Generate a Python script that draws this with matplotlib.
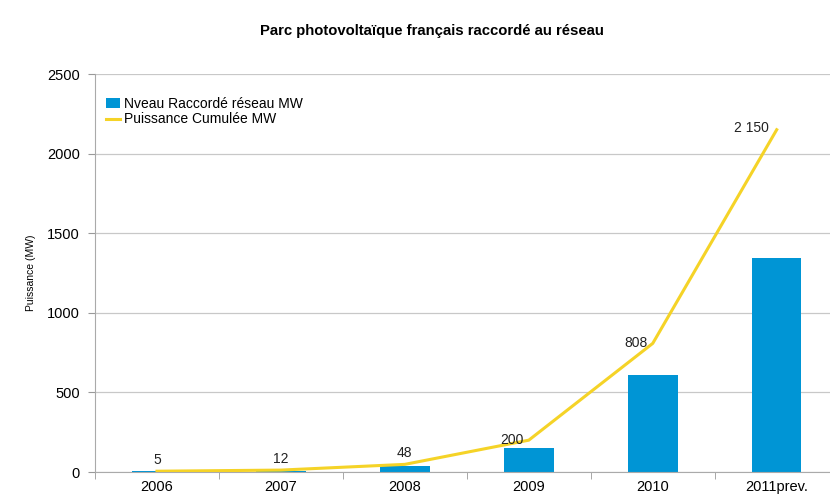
import matplotlib.pyplot as plt
import numpy as np

plt.rcParams['font.family'] = ['Liberation Sans', 'DejaVu Sans']

years = ['2006', '2007', '2008', '2009', '2010', '2011prev.']
annual_mw = [5, 7, 36, 152, 608, 1342]
cumul_mw = [5, 12, 48, 200, 808, 2150]
cumul_labels = ['5', '12', '48', '200', '808', '2 150']

# label offsets in points (dx, dy) relative to each line point
label_offsets = [(0, 8), (0, 8), (0, 8), (-12, 0), (-12, 0), (-18, 1)]

bar_color = '#0095D5'
line_color = '#F5D327'
grid_color = '#C8C8C8'

fig = plt.figure(figsize=(8.3, 4.95), dpi=100)
ax = fig.add_axes([95 / 830, 23 / 495, 735 / 830, 398 / 495])

x = np.arange(len(years))
bars = ax.bar(x, annual_mw, width=0.4, color=bar_color, zorder=2)
line, = ax.plot(x, cumul_mw, color=line_color, lw=2.2, zorder=3)

for xi, yi, txt, off in zip(x, cumul_mw, cumul_labels, label_offsets):
    ax.annotate(txt, (xi, yi), xytext=off, textcoords='offset points',
                ha='center', va='center', fontsize=10, color='#222222', zorder=4)

ax.set_xlim(-0.5, 5.43)
ax.set_ylim(0, 2500)
ax.set_yticks([0, 500, 1000, 1500, 2000, 2500])
ax.yaxis.grid(True, color=grid_color, lw=0.9, zorder=0)
ax.set_axisbelow(True)

ax.set_xticks(x)
ax.set_xticklabels(years, fontsize=10.5)
ax.set_xticks(np.arange(len(years)) - 0.5, minor=True)
ax.tick_params(axis='x', which='major', length=0, pad=6)
ax.tick_params(axis='x', which='minor', length=5, color='#999999', direction='out')
ax.tick_params(axis='y', length=5, color='#999999', labelsize=10.5, pad=6)

for side in ['top', 'right']:
    ax.spines[side].set_visible(False)
ax.spines['left'].set_color('#AAAAAA')
ax.spines['bottom'].set_color('#AAAAAA')

ax.set_ylabel('Puissance (MW)', fontsize=7.5, labelpad=8)

ax.legend([bars, line], ['Nveau Raccordé réseau MW', 'Puissance Cumulée MW'],
          loc='upper left', bbox_to_anchor=(0.0, 0.97), frameon=False,
          fontsize=10, handlelength=1.0, handletextpad=0.3,
          labelspacing=0.1, borderaxespad=0.4)

fig.text(0.52, 0.938, 'Parc photovoltaïque français raccordé au réseau',
         ha='center', va='center', fontsize=10.7, fontweight='bold')

fig.savefig('out.png', dpi=100)
